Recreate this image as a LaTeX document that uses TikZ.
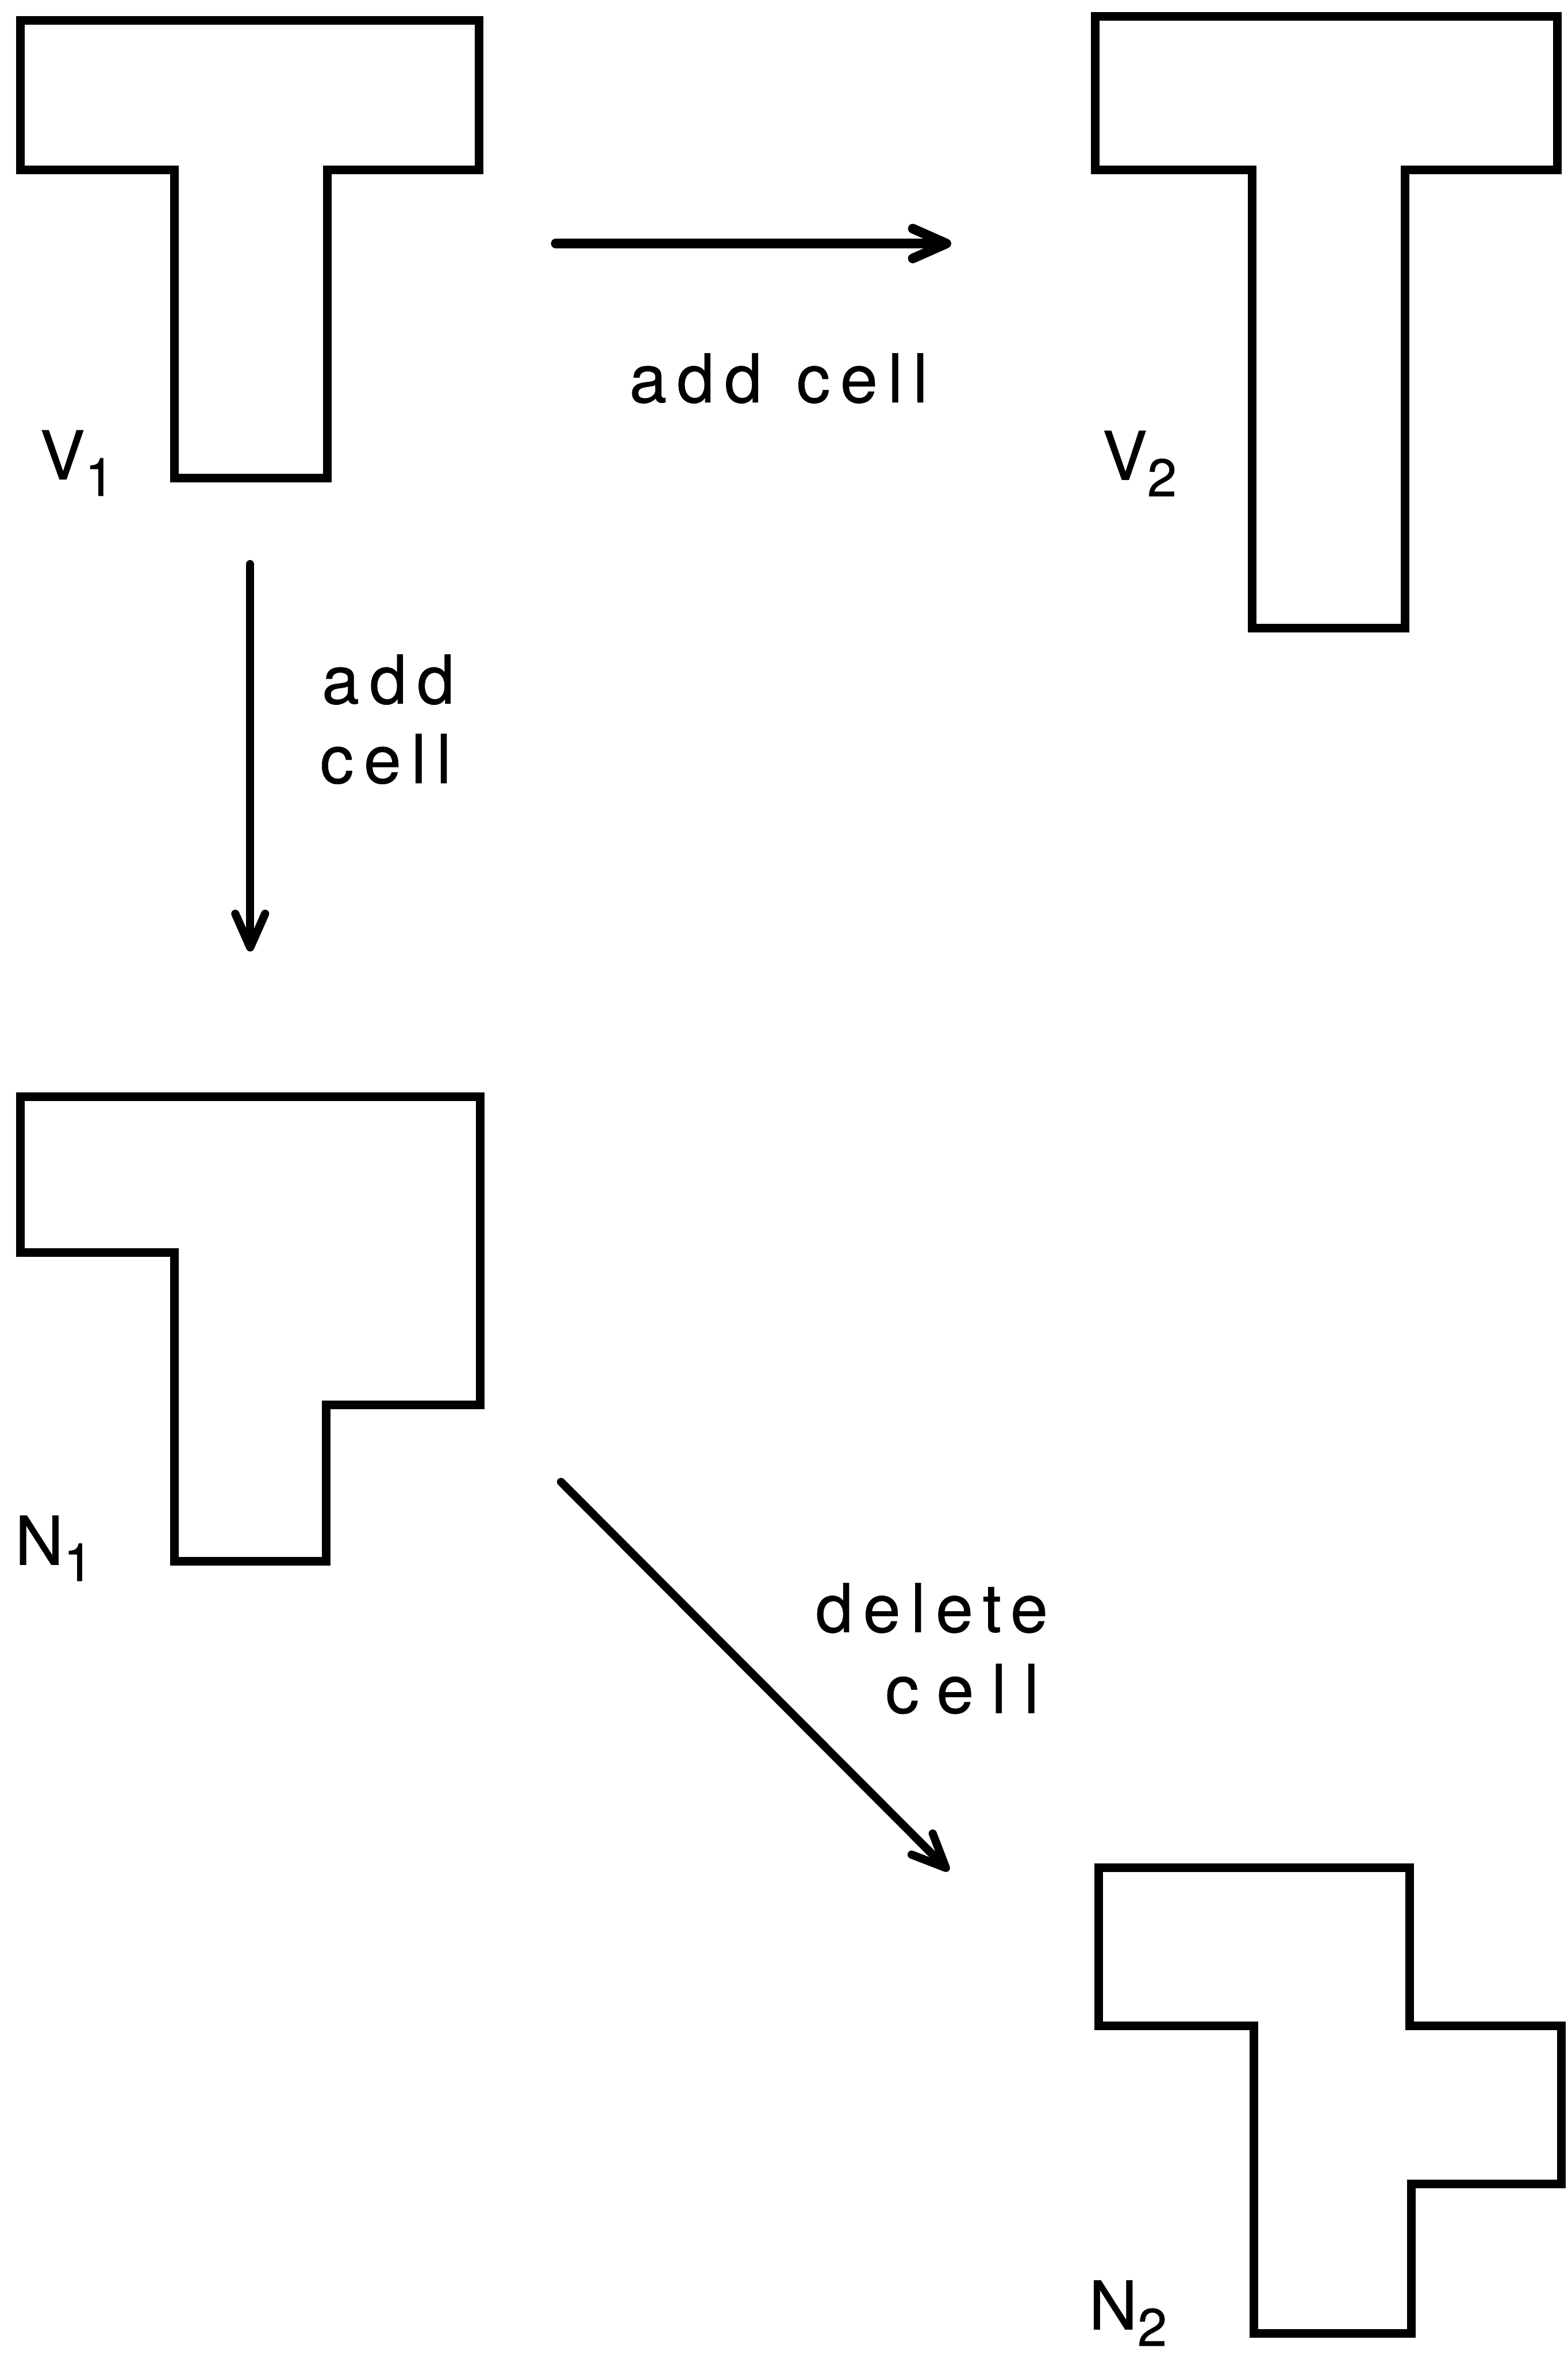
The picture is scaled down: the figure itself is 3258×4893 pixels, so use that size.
\documentclass[tikz,border=0pt]{standalone}
\usepackage{fontspec}
\setmainfont[FakeBold=0.6]{TeX Gyre Heros}
\newfontfamily\lblfont[LetterSpace=15,FakeBold=0.6]{TeX Gyre Heros}
\newfontfamily\widefont[LetterSpace=26,FakeBold=0.6]{TeX Gyre Heros}
\usetikzlibrary{arrows.meta}
\newcommand{\bigsz}{\fontsize{140}{165}\selectfont}
\newcommand{\subsz}{\fontsize{110}{110}\selectfont}
\newcommand{\symlbl}[2]{{\bigsz #1}\raisebox{-34pt}{\subsz #2}}
\tikzset{
  cellshape/.style={line width=18pt, line join=miter},
  trans/.style={line width=17pt, line cap=round, line join=round,
    -{Straight Barb[length=70pt,width=62pt,line cap=round,line join=round]}},
  lbl/.style={anchor=base west, inner sep=0pt, outer sep=0pt, font=\lblfont\bigsz},
  sym/.style={anchor=base west, inner sep=0pt, outer sep=0pt, font=\rmfamily}
}
\begin{document}
\begin{tikzpicture}[x=1pt,y=-1pt]
\useasboundingbox[fill=white] (0,0) rectangle (3258,4893);
% shapes
\draw[cellshape] (42,42) -- (996,42) -- (996,353) -- (680,353) -- (680,993)
  -- (362,993) -- (362,353) -- (42,353) -- cycle;
\draw[cellshape] (2276,34) -- (3237,34) -- (3237,353) -- (2920,353) -- (2920,1305)
  -- (2602,1305) -- (2602,353) -- (2276,353) -- cycle;
\draw[cellshape] (42,2279) -- (998,2279) -- (998,2919) -- (678,2919) -- (678,3244)
  -- (363,3244) -- (363,2602) -- (42,2602) -- cycle;
\draw[cellshape] (2283,3880) -- (2930,3880) -- (2930,4209) -- (3245,4209) -- (3245,4538)
  -- (2933,4538) -- (2933,4848) -- (2606,4848) -- (2606,4209) -- (2283,4209) -- cycle;
% labels of shapes
\node[sym] (v1) at (83,996) {\symlbl{V}{1}};
\node[sym] (v2) at (2291,997) {\symlbl{V}{2}};
\node[sym] (n1) at (31,3251) {\symlbl{N}{1}};
\node[sym] (n2) at (2263,4840) {\symlbl{N}{2}};
% arrow end points
\coordinate (hs) at (1155,506);
\coordinate (he) at (1977,506);
\coordinate (vs) at (520,1172);
\coordinate (ve) at (520,1977);
\coordinate (ds) at (1166,3079);
\coordinate (de) at (1972,3887);
\draw[trans, line width=20pt] (hs) -- (he);
\draw[trans] (vs) -- (ve);
\draw[trans] (ds) -- (de);
% transition labels
\node[lbl] (l1) at (1308,836) {add\hspace{12pt} cell};
\node[lbl] (l2a) at (669,1462) {add};
\node[lbl] (l2b) at (665,1627) {cell};
\node[lbl] (l3a) at (1695,3391) {delete};
\node[lbl, font=\widefont\bigsz] (l3b) at (1840,3559) {cell};
\end{tikzpicture}
\end{document}
